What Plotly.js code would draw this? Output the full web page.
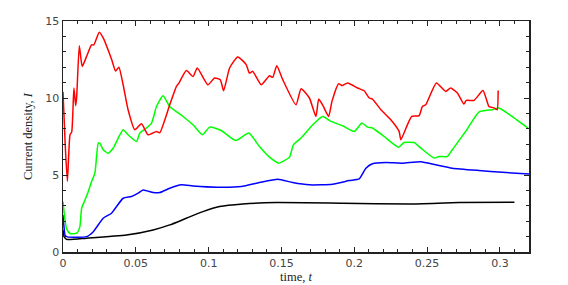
<!DOCTYPE html>
<html>
<head>
<meta charset="utf-8">
<script src="https://cdn.plot.ly/plotly-3.0.1.min.js"></script>
<style>
  body { margin: 0; padding: 0; background: #fff; }
  #myChart { width: 568px; height: 285px; }
</style>
</head>
<body>
<div id="myChart"></div>
<script>
// values
var red_t = [0, 0.0015, 0.003, 0.0048, 0.006, 0.0075, 0.0087, 0.0094, 0.0112, 0.0132, 0.0162, 0.0196, 0.0212,
  0.0249, 0.0276, 0.0334, 0.0361, 0.0384, 0.0413, 0.0447, 0.0493, 0.0539, 0.0584, 0.0642, 0.0664, 0.0733,
  0.0779, 0.0797, 0.0847, 0.0893, 0.0922, 0.0995, 0.1041, 0.108, 0.1103, 0.1144, 0.12, 0.1258, 0.128,
  0.1303, 0.1361, 0.1418, 0.144, 0.1468, 0.1509, 0.16, 0.1635, 0.1692, 0.1737, 0.1756, 0.1788, 0.1824,
  0.1847, 0.1893, 0.1916, 0.1955, 0.2023, 0.2068, 0.2103, 0.2125, 0.2183, 0.2251, 0.2308, 0.232, 0.2365,
  0.2395, 0.2445, 0.2468, 0.2491, 0.2564, 0.2628, 0.2662, 0.2708, 0.2753, 0.2769, 0.2822, 0.2884, 0.2925,
  0.2947, 0.297, 0.2982, 0.2988];
var red_I = [10.4, 7.0, 4.6, 7.6, 7.8, 10.65, 9.5, 10.1, 13.4, 12.05, 12.7, 13.45, 13.45,
  14.27, 13.9, 12.5, 11.75, 12.0, 10.86, 9.24, 7.94, 8.33, 7.61, 7.83, 7.74, 9.56,
  10.76, 10.98, 11.78, 11.4, 11.95, 10.86, 11.3, 11.19, 10.47, 11.95, 12.67, 12.17, 11.62,
  11.73, 10.86, 11.45, 11.34, 12.1, 11.19, 9.56, 10.6, 10.0, 8.8, 9.93, 9.45, 8.8,
  9.78, 10.93, 10.8, 10.98, 10.65, 10.47, 10.0, 9.93, 9.24, 8.59, 7.83, 7.29, 8.26,
  8.8, 8.85, 9.45, 9.56, 10.98, 10.43, 10.65, 10.33, 9.61, 9.84, 9.84, 10.49, 9.45,
  9.39, 9.3, 9.24, 10.49];

var green_t = [0, 0.0012, 0.0025, 0.0048, 0.0094, 0.0116, 0.0128, 0.0151, 0.0173, 0.0196, 0.0219, 0.0242,
  0.0253, 0.0276, 0.031, 0.0345, 0.0379, 0.0413, 0.0447, 0.0505, 0.0527, 0.0573, 0.0608, 0.0642, 0.0687,
  0.0733, 0.0824, 0.0893, 0.0957, 0.1007, 0.1087, 0.1185, 0.1276, 0.1349, 0.1418, 0.1482, 0.1555, 0.1582,
  0.1635, 0.1715, 0.1783, 0.184, 0.192, 0.2, 0.2053, 0.2091, 0.2125, 0.2205, 0.2304, 0.2342, 0.2411,
  0.2457, 0.2548, 0.2582, 0.2639, 0.2673, 0.2765, 0.2856, 0.2947, 0.2993, 0.3084, 0.313, 0.3194];
var green_I = [3.27, 2.2, 1.5, 1.2, 1.22, 1.65, 2.84, 3.38, 3.92, 4.57, 5.12, 7.07,
  7.07, 6.64, 6.42, 6.75, 7.4, 7.94, 7.61, 7.18, 7.72, 8.05, 8.37, 9.45, 10.15,
  9.45, 8.8, 8.26, 7.61, 8.11, 7.89, 7.24, 7.72, 6.85, 6.16, 5.77, 6.16, 6.96,
  7.4, 8.26, 8.8, 8.48, 8.2, 7.83, 8.37, 8.11, 8.05, 7.5, 6.81, 7.11, 7.11,
  6.75, 6.1, 6.2, 6.2, 6.64, 7.83, 9.09, 9.24, 9.35, 8.8, 8.48, 8.05];

var blue_t = [0, 0.0008, 0.0014, 0.003, 0.0162, 0.0208, 0.0276, 0.0333, 0.0413, 0.047, 0.0516, 0.055,
  0.0619, 0.0664, 0.0733, 0.0813, 0.0893, 0.1053, 0.1224, 0.1349, 0.1475, 0.1577, 0.1692, 0.1851,
  0.1966, 0.2034, 0.208, 0.2125, 0.2217, 0.2331, 0.2457, 0.2559, 0.2673, 0.2856, 0.3016, 0.32];
var blue_I = [2.4, 1.5, 1.1, 0.98, 1.0, 1.32, 2.19, 2.52, 3.49, 3.6, 3.82, 4.03,
  3.86, 3.86, 4.14, 4.36, 4.29, 4.21, 4.25, 4.51, 4.73, 4.51, 4.36, 4.4,
  4.64, 4.75, 5.44, 5.73, 5.81, 5.77, 5.86, 5.66, 5.44, 5.29, 5.18, 5.06];

var black_t = [0, 0.0008, 0.0025, 0.0162, 0.0436, 0.0619, 0.0733, 0.0847, 0.0961, 0.1075, 0.1235,
  0.1464, 0.192, 0.2377, 0.2719, 0.31];
var black_I = [1.43, 1.0, 0.82, 0.9, 1.1, 1.43, 1.76, 2.19, 2.62, 2.95, 3.12,
  3.21, 3.17, 3.12, 3.21, 3.23];

var x_ticks = [0, 0.05, 0.1, 0.15, 0.2, 0.25, 0.3];
var x_labels = ['0', '0.05', '0.1', '0.15', '0.2', '0.25', '0.3'];
var y_ticks = [0, 5, 10, 15];

function trace(t, I, color) {
  return {
    x: t,
    y: I,
    type: 'scatter',
    mode: 'lines',
    line: {color: color, width: 1.5, shape: 'spline', smoothing: 0.5},
    showlegend: false,
    hoverinfo: 'none'
  };
}

var data = [
  trace(black_t, black_I, '#000000'),
  trace(blue_t, blue_I, '#0000ff'),
  trace(green_t, green_I, '#00ff00'),
  trace(red_t, red_I, '#ff0000')
];

var serif = 'Liberation Serif, DejaVu Serif, serif';
var sans = 'DejaVu Sans, sans-serif';

var layout = {
  width: 568,
  height: 285,
  margin: {l: 63, r: 39, t: 21, b: 33},
  paper_bgcolor: '#fff',
  plot_bgcolor: '#fff',
  xaxis: {
    range: [0, 0.32],
    tickvals: x_ticks,
    ticktext: x_labels,
    ticks: 'inside',
    ticklen: 5,
    tickwidth: 1,
    tickcolor: '#222',
    minor: {ticks: 'inside', ticklen: 3, dtick: 0.01, tick0: 0, tickcolor: '#222'},
    showline: true,
    linecolor: '#222',
    linewidth: 1.5,
    mirror: 'ticks',
    showgrid: false,
    zeroline: false,
    tickfont: {family: sans, size: 11, color: '#444'},
    title: {text: 'time, <i>t</i>', font: {family: serif, size: 12.5, color: '#222'}, standoff: 2}
  },
  yaxis: {
    range: [0, 15],
    tickvals: y_ticks,
    ticks: 'inside',
    ticklen: 5,
    tickwidth: 1,
    tickcolor: '#222',
    minor: {ticks: 'inside', ticklen: 3, dtick: 1, tick0: 0, tickcolor: '#222'},
    showline: true,
    linecolor: '#222',
    linewidth: 1.5,
    mirror: 'ticks',
    showgrid: false,
    zeroline: false,
    tickfont: {family: sans, size: 11, color: '#444'},
    title: {text: 'Current density, <i>I</i>', font: {family: serif, size: 12.5, color: '#222'}, standoff: 10}
  }
};

Plotly.newPlot('myChart', data, layout, {staticPlot: true});
</script>
</body>
</html>
